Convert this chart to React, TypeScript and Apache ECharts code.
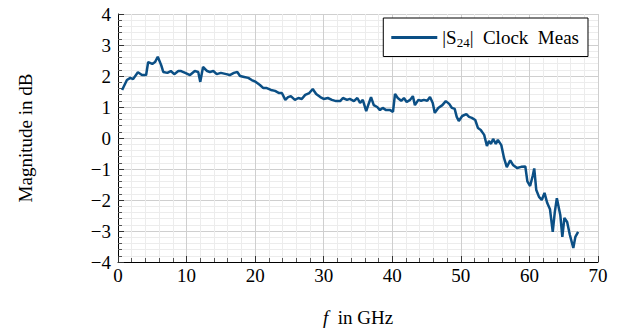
import React, { useEffect, useRef } from "react";
import * as echarts from "echarts";

const freqGHz = [
  0.6, 1.3, 1.8, 2.2, 2.9, 3.5, 4.1, 4.4, 5.0, 5.4, 5.8, 6.3, 6.6, 7.2, 7.7, 8.2, 8.8, 9.2, 9.8, 10.5,
  11.2, 11.7, 12.0, 12.4, 13.0, 13.4, 13.9, 14.4, 15.0, 15.8, 16.3, 16.9, 17.4, 17.8, 18.4, 19.0, 19.5, 20.1, 20.7, 21.2,
  21.7, 22.3, 22.9, 23.5, 23.9, 24.4, 24.8, 25.2, 25.8, 26.3, 26.8, 27.3, 27.9, 28.4, 28.9, 29.5, 30.0, 30.6, 31.2, 31.8,
  32.4, 32.8, 33.4, 33.8, 34.4, 34.9, 35.3, 35.7, 36.2, 36.6, 36.9, 37.3, 37.8, 38.2, 38.6, 39.1, 39.7, 40.1, 40.4, 40.8,
  41.3, 41.7, 42.1, 42.6, 43.0, 43.3, 43.8, 44.2, 44.6, 45.1, 45.5, 45.9, 46.2, 46.7, 47.3, 47.8, 48.3, 48.7, 49.1, 49.4,
  49.7, 50.2, 50.8, 51.2, 51.6, 52.1, 52.5, 52.9, 53.4, 53.8, 54.1, 54.4, 54.7, 55.1, 55.4, 55.9, 56.3, 56.7, 57.2, 57.6,
  58.2, 58.8, 59.4, 59.7, 60.1, 60.5, 60.7, 61.0, 61.4, 61.8, 62.2, 62.6, 63.0, 63.4, 63.7, 64.0, 64.5, 64.8, 65.1, 65.5,
  65.9, 66.4, 66.7, 67.1,
];

const magS24 = [
  1.55, 1.87, 1.94, 1.9, 2.12, 2.03, 2.03, 2.45, 2.39, 2.45, 2.62, 2.35, 2.13, 2.1, 2.16, 2.06, 2.16, 2.16, 2.1, 2.03,
  2.16, 2.13, 1.81, 2.29, 2.16, 2.13, 2.16, 2.06, 2.1, 2.06, 2.03, 2.1, 2.13, 2.0, 1.97, 1.94, 1.87, 1.81, 1.71, 1.61,
  1.61, 1.55, 1.52, 1.45, 1.45, 1.23, 1.32, 1.35, 1.23, 1.29, 1.26, 1.39, 1.45, 1.58, 1.42, 1.32, 1.26, 1.29, 1.23, 1.19,
  1.19, 1.29, 1.23, 1.26, 1.19, 1.29, 1.13, 1.23, 0.87, 1.13, 1.32, 1.06, 1.0, 0.9, 0.97, 0.9, 0.9, 0.84, 1.42, 1.29,
  1.2, 1.29, 1.16, 1.23, 1.35, 1.06, 1.23, 1.2, 1.23, 1.2, 1.32, 1.13, 0.81, 0.97, 1.06, 1.19, 1.1, 0.97, 0.94, 0.68,
  0.55, 0.71, 0.77, 0.68, 0.65, 0.58, 0.32, 0.26, 0.1, -0.26, -0.1, -0.19, -0.03, -0.19, -0.06, -0.23, -0.65, -0.94, -0.72, -0.87,
  -0.97, -0.93, -0.92, -1.4, -1.55, -1.2, -0.98, -1.68, -1.9, -2.0, -1.77, -2.1, -2.3, -3.03, -2.39, -1.94, -2.48, -3.19, -2.58, -2.71,
  -3.13, -3.55, -3.19, -3.03,
];

const seriesName = "|S24| Clock Meas";
const yAxisTitle = "Magnitude in dB";

const FONT = "Liberation Serif";
const LINE_COLOR = "#0b4f85";

export default function App() {
  const ref = useRef<HTMLDivElement>(null);

  useEffect(() => {
    if (!ref.current) return;
    const chart = echarts.init(ref.current, undefined, { renderer: "svg" });
    const data = freqGHz.map((f, i) => [f, magS24[i]]);
    const fmt = (v: number) => String(v).replace("-", "\u2212");
    chart.setOption({
      animation: false,
      backgroundColor: "#ffffff",
      textStyle: { fontFamily: FONT },
      grid: { left: 118, right: 32, top: 14, bottom: 71, containLabel: false },
      legend: {
        show: true,
        data: [{ name: seriesName, icon: "rect" }],
        right: 42,
        top: 18,
        itemWidth: 46,
        itemHeight: 3,
        itemGap: 10,
        padding: [9, 9, 8, 8],
        borderColor: "#000",
        borderWidth: 1,
        borderRadius: 0,
        backgroundColor: "#fff",
        formatter: () => "|S{sub|24}|  Clock  Meas",
        textStyle: {
          fontFamily: FONT,
          fontSize: 19,
          lineHeight: 21,
          color: "#000",
          rich: {
            sub: { fontFamily: FONT, fontSize: 13, color: "#000", padding: [9, 0, 0, 0] },
          },
        },
      },
      xAxis: {
        type: "value",
        min: 0,
        max: 70,
        interval: 10,
        name: "{i|f}  in GHz",
        nameLocation: "middle",
        nameGap: 46,
        nameTextStyle: {
          fontFamily: FONT,
          fontSize: 19,
          color: "#000",
          rich: { i: { fontFamily: FONT, fontStyle: "italic", fontSize: 19, color: "#000" } },
        },
        axisLine: { show: true, onZero: false, lineStyle: { color: "#000", width: 1 } },
        axisTick: { show: true, inside: true, length: 6, lineStyle: { color: "#333" } },
        minorTick: { show: true, splitNumber: 5, length: 4, lineStyle: { color: "#555" } },
        axisLabel: { fontFamily: FONT, fontSize: 19, color: "#000", margin: 4, formatter: fmt },
        splitLine: { show: true, lineStyle: { color: "#cfcfcf", width: 1 } },
        minorSplitLine: { show: true, lineStyle: { color: "#ececec", width: 1 } },
      },
      yAxis: {
        type: "value",
        min: -4,
        max: 4,
        interval: 1,
        name: yAxisTitle,
        nameLocation: "middle",
        nameGap: 83,
        nameRotate: 90,
        nameTextStyle: { fontFamily: FONT, fontSize: 19, color: "#000" },
        axisLine: { show: true, onZero: false, lineStyle: { color: "#000", width: 1 } },
        axisTick: { show: true, inside: true, length: 6, lineStyle: { color: "#333" } },
        minorTick: { show: true, splitNumber: 5, length: 4, lineStyle: { color: "#555" } },
        axisLabel: { fontFamily: FONT, fontSize: 19, color: "#000", margin: 7, formatter: fmt },
        splitLine: { show: true, lineStyle: { color: "#cfcfcf", width: 1 } },
        minorSplitLine: { show: true, lineStyle: { color: "#ececec", width: 1 } },
      },
      series: [
        {
          name: seriesName,
          type: "line",
          data,
          showSymbol: false,
          symbol: "none",
          lineStyle: { color: LINE_COLOR, width: 2.5 },
          itemStyle: { color: LINE_COLOR },
        },
      ],
    });
    return () => chart.dispose();
  }, []);

  return (
    <div
      ref={ref}
      style={{ width: 630, height: 333, position: "absolute", left: 0, top: 0 }}
    />
  );
}
